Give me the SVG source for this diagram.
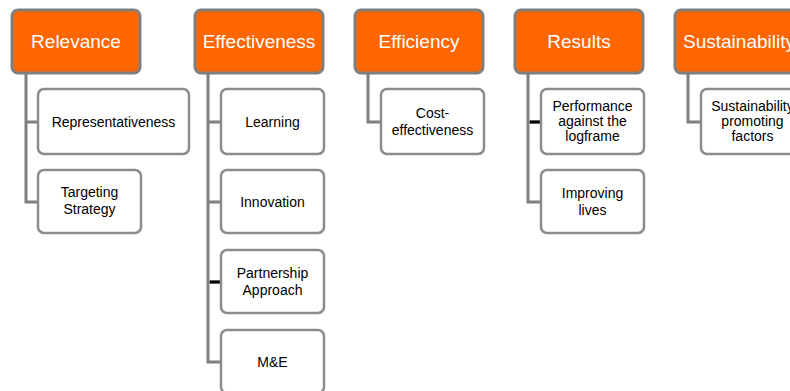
<svg xmlns="http://www.w3.org/2000/svg" width="790" height="391" viewBox="0 0 790 391">
<style>
.hd{fill:#ff6600;stroke:#7f7f7f;stroke-width:3}
.ch{fill:#fff;stroke:#8c8c8c;stroke-width:2.5}
.ht{font-family:"Liberation Sans",Arial,sans-serif;font-size:19px;fill:#fff;text-anchor:middle}
.ct{font-family:"Liberation Sans",Arial,sans-serif;font-size:14px;fill:#000;text-anchor:middle}
.cn{fill:none;stroke:#7f7f7f;stroke-width:3}
.cb{fill:none;stroke:#000;stroke-width:3}
</style>
<g id="connectors">
<path class="cn" d="M26 73V202H38M26 122H38"/>
<path class="cn" d="M208 73V362H221M208 122H221M208 202H221M208 282H221"/>
<path class="cb" d="M210 282H220"/>
<path class="cn" d="M368 73V122H381"/>
<path class="cn" d="M528 73V202H541M528 122H541"/>
<path class="cb" d="M530 122H540"/>
<path class="cn" d="M688 73V122H701"/>
</g>
<g id="relevance"><rect class="hd" x="12" y="10" width="128" height="63" rx="6"/><text class="ht" x="76" y="48">Relevance</text></g>
<g id="representativeness"><rect class="ch" x="38" y="89" width="151" height="65" rx="6"/><text class="ct" x="113.5" y="127">Representativeness</text></g>
<g id="targeting"><rect class="ch" x="38" y="170" width="103" height="63" rx="6"/><text class="ct" x="89.5" y="197">Targeting</text><text class="ct" x="89.5" y="214">Strategy</text></g>
<g id="effectiveness"><rect class="hd" x="195" y="10" width="128" height="63" rx="6"/><text class="ht" x="259" y="48">Effectiveness</text></g>
<g id="learning"><rect class="ch" x="221" y="89" width="103" height="65" rx="6"/><text class="ct" x="272.5" y="127">Learning</text></g>
<g id="innovation"><rect class="ch" x="221" y="170" width="103" height="63" rx="6"/><text class="ct" x="272.5" y="207">Innovation</text></g>
<g id="partnership"><rect class="ch" x="221" y="250" width="103" height="63" rx="6"/><text class="ct" x="272.5" y="278">Partnership</text><text class="ct" x="272.5" y="295">Approach</text></g>
<g id="me"><rect class="ch" x="221" y="330" width="103" height="63" rx="6"/><text class="ct" x="272.5" y="367">M&amp;E</text></g>
<g id="efficiency"><rect class="hd" x="355" y="10" width="128" height="63" rx="6"/><text class="ht" x="419" y="48">Efficiency</text></g>
<g id="cost"><rect class="ch" x="381" y="89" width="103" height="65" rx="6"/><text class="ct" x="432.5" y="118">Cost-</text><text class="ct" x="432.5" y="135">effectiveness</text></g>
<g id="results"><rect class="hd" x="515" y="10" width="128" height="63" rx="6"/><text class="ht" x="579" y="48">Results</text></g>
<g id="performance"><rect class="ch" x="541" y="89" width="103" height="65" rx="6"/><text class="ct" x="592.5" y="111">Performance</text><text class="ct" x="592.5" y="126">against the</text><text class="ct" x="592.5" y="141">logframe</text></g>
<g id="improving"><rect class="ch" x="541" y="170" width="103" height="63" rx="6"/><text class="ct" x="592.5" y="198">Improving</text><text class="ct" x="592.5" y="215">lives</text></g>
<g id="sustainability"><rect class="hd" x="675" y="10" width="128" height="63" rx="6"/><text class="ht" x="739" y="48">Sustainability</text></g>
<g id="sfactors"><rect class="ch" x="701" y="89" width="103" height="65" rx="6"/><text class="ct" x="752.5" y="111">Sustainability</text><text class="ct" x="752.5" y="126">promoting</text><text class="ct" x="752.5" y="141">factors</text></g>
</svg>
